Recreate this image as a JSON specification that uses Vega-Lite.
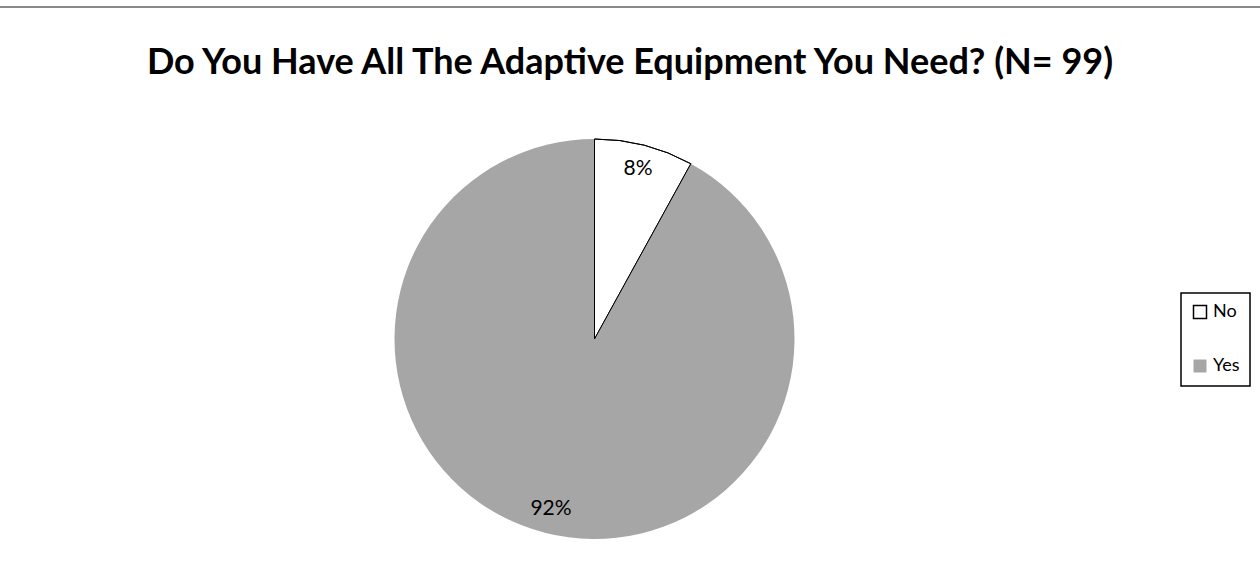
{
  "$schema": "https://vega.github.io/schema/vega-lite/v6.json",
  "autosize": "none",
  "padding": {"left": -400, "top": 7, "right": -329, "bottom": -86},
  "width": 1989,
  "height": 664,
  "background": "white",
  "view": {"stroke": "#888888", "strokeWidth": 2, "fill": "white"},
  "title": {
    "text": "Do You Have All The Adaptive Equipment You Need? (N= 99)",
    "font": "Lato",
    "fontSize": 36,
    "fontWeight": "bold",
    "color": "black",
    "anchor": "middle",
    "dx": 35.5,
    "offset": -103,
    "baseline": "alphabetic"
  },
  "data": {"values": [
    {"answer": "No", "share": 0.08},
    {"answer": "Yes", "share": 0.92}
  ]},
  "layer": [
    {
      "mark": {"type": "arc", "radius": 200, "strokeWidth": 1},
      "encoding": {
        "theta": {"field": "share", "type": "quantitative", "stack": true},
        "order": {"field": "answer", "sort": "ascending"},
        "fill": {
          "field": "answer", "type": "nominal",
          "scale": {"domain": ["No", "Yes"], "range": ["white", "#a6a6a6"]},
          "legend": {"orient": "none", "legendX": 1581, "legendY": 286, "title": null}
        },
        "stroke": {
          "field": "answer", "type": "nominal",
          "scale": {"domain": ["No", "Yes"], "range": ["black", "transparent"]},
          "legend": {"orient": "none", "legendX": 1581, "legendY": 286, "title": null}
        }
      }
    },
    {
      "mark": {"type": "arc", "radius": 200, "filled": false, "strokeWidth": 1},
      "encoding": {
        "theta": {"field": "share", "type": "quantitative", "stack": true},
        "order": {"field": "answer", "sort": "ascending"},
        "stroke": {
          "field": "answer", "type": "nominal",
          "scale": {"domain": ["No", "Yes"], "range": ["black", "transparent"]},
          "legend": {"orient": "none", "legendX": 1581, "legendY": 286, "title": null}
        }
      }
    },
    {
      "mark": {"type": "text", "radius": 175, "font": "Lato", "fontSize": 21, "color": "black"},
      "encoding": {
        "theta": {"field": "share", "type": "quantitative", "stack": true},
        "order": {"field": "answer", "sort": "ascending"},
        "detail": {"field": "answer", "type": "nominal"},
        "text": {"field": "share", "type": "quantitative", "format": ".0%"}
      }
    }
  ],
  "config": {
    "view": {"stroke": "#888888", "strokeWidth": 2},
    "legend": {
      "strokeColor": "black",
      "strokeWidth": 1.5,
      "padding": 10,
      "symbolType": "square",
      "symbolSize": 169,
      "symbolStrokeWidth": 1.5,
      "labelFont": "Lato",
      "labelFontSize": 18,
      "labelColor": "black",
      "labelOffset": 4,
      "rowPadding": 34,
      "fillColor": "white"
    }
  }
}
